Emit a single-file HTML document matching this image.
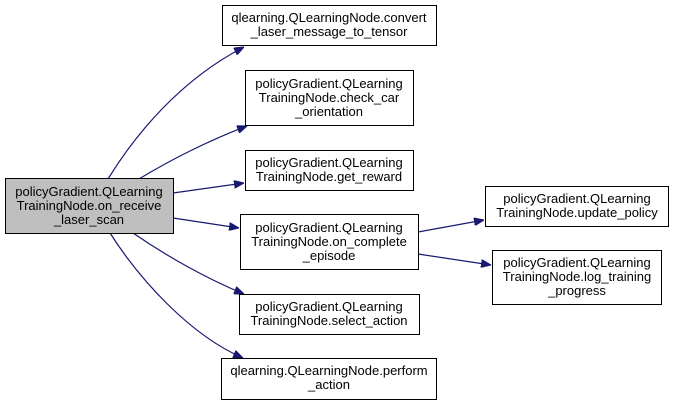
<!DOCTYPE html>
<html><head><meta charset="utf-8"><style>
html,body{margin:0;padding:0;background:#fff;}
svg{display:block;}
text{font-family:"Liberation Sans",sans-serif;font-size:13px;fill:#000;}
</style></head><body>
<svg width="673" height="405" viewBox="0 0 673 405" xmlns="http://www.w3.org/2000/svg">
<defs><marker id="ah" markerWidth="10" markerHeight="8" refX="10" refY="4" orient="auto" markerUnits="userSpaceOnUse"><path d="M0,0 L10,4 L0,8 z" fill="#191970" stroke="#191970"/></marker></defs>
<g fill="none" stroke="#191970" stroke-width="1.2">
<path d="M108,179 C135,135 180,80 244,47" marker-end="url(#ah)"/>
<path d="M139,179 C170,160 210,140 247,126" marker-end="url(#ah)"/>
<path d="M173,193 L244,183" marker-end="url(#ah)"/>
<path d="M173,218 L239,228" marker-end="url(#ah)"/>
<path d="M133,233 C165,255 205,278 244,294" marker-end="url(#ah)"/>
<path d="M110,233 C140,280 190,335 243,358" marker-end="url(#ah)"/>
<path d="M418,232 L484,220" marker-end="url(#ah)"/>
<path d="M418,254 L491,265" marker-end="url(#ah)"/>
</g>
<g stroke="#000" stroke-width="1">
<rect x="5.5" y="178.5" width="168" height="55" fill="#bfbfbf"/>
<rect x="222.5" y="5.5" width="214" height="40" fill="#fff"/>
<rect x="245.5" y="70.5" width="168" height="55" fill="#fff"/>
<rect x="245.5" y="150.5" width="168" height="40" fill="#fff"/>
<rect x="240.5" y="214.5" width="178" height="55" fill="#fff"/>
<rect x="239.5" y="294.5" width="180" height="40" fill="#fff"/>
<rect x="221.5" y="358.5" width="215" height="41" fill="#fff"/>
<rect x="485.5" y="186.5" width="183" height="40" fill="#fff"/>
<rect x="492.5" y="250.5" width="169" height="54" fill="#fff"/>
</g>
<g text-anchor="middle">
<text x="89" y="196">policyGradient.QLearning</text>
<text x="89" y="210">TrainingNode.on_receive</text>
<text x="89" y="224">_laser_scan</text>
<text x="329" y="22">qlearning.QLearningNode.convert</text>
<text x="329" y="36">_laser_message_to_tensor</text>
<text x="329" y="88">policyGradient.QLearning</text>
<text x="329" y="102">TrainingNode.check_car</text>
<text x="329" y="116">_orientation</text>
<text x="329" y="167">policyGradient.QLearning</text>
<text x="329" y="181">TrainingNode.get_reward</text>
<text x="329" y="232">policyGradient.QLearning</text>
<text x="329" y="246">TrainingNode.on_complete</text>
<text x="329" y="260">_episode</text>
<text x="329" y="311">policyGradient.QLearning</text>
<text x="329" y="325">TrainingNode.select_action</text>
<text x="329" y="375">qlearning.QLearningNode.perform</text>
<text x="329" y="389">_action</text>
<text x="577" y="203">policyGradient.QLearning</text>
<text x="577" y="217">TrainingNode.update_policy</text>
<text x="577" y="267">policyGradient.QLearning</text>
<text x="577" y="281">TrainingNode.log_training</text>
<text x="577" y="295">_progress</text>
</g>
</svg>
</body></html>
